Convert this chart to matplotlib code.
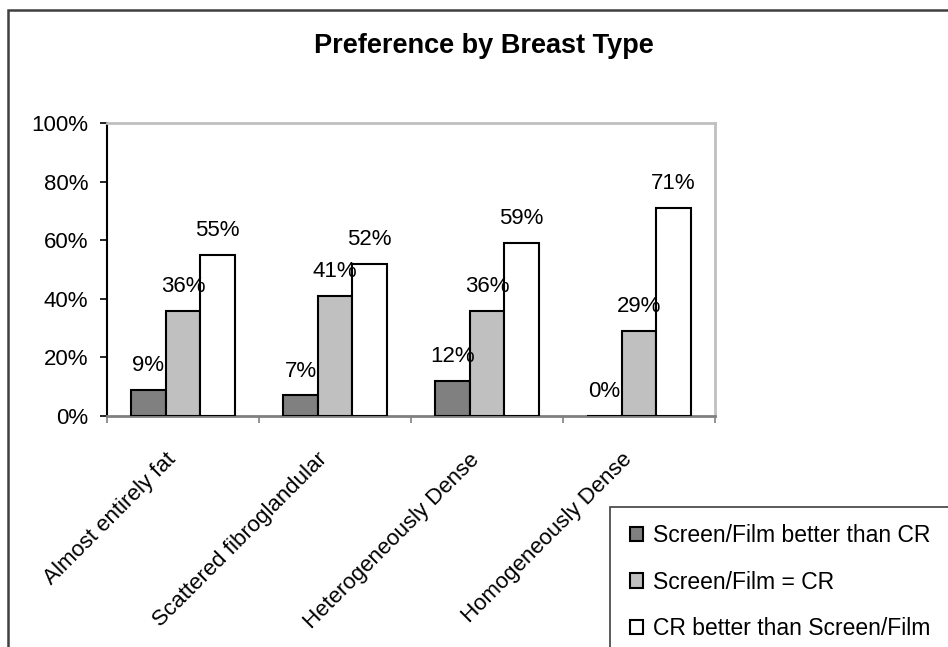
import matplotlib
matplotlib.use("Agg")
import matplotlib.pyplot as plt
from matplotlib.patches import Rectangle, Patch
from matplotlib.transforms import ScaledTranslation, blended_transform_factory
import numpy as np

plt.rcParams['font.family'] = ['Liberation Sans', 'DejaVu Sans']

categories = ["Almost entirely fat", "Scattered fibroglandular",
              "Heterogeneously Dense", "Homogeneously Dense"]
series_names = ["Screen/Film better than CR", "Screen/Film = CR",
                "CR better than Screen/Film"]
sf_better = [9, 7, 12, 0]
sf_equal = [36, 41, 36, 29]
cr_better = [55, 52, 59, 71]
y_ticks = [0, 20, 40, 60, 80, 100]

series = [sf_better, sf_equal, cr_better]
colors = ["#808080", "#C0C0C0", "#FFFFFF"]

W, H = 948, 647
fig = plt.figure(figsize=(W / 100, H / 100), dpi=100)

# outer chart border
fig.patches.append(Rectangle((8 / W, -0.1), 1.2, 1 - 10 / H + 0.1,
                             transform=fig.transFigure, fill=False,
                             edgecolor="#404040", linewidth=1.8))

ax = fig.add_axes([107 / W, 1 - 416 / H, (715 - 107) / W, (416 - 123) / H])

x = np.arange(len(categories))
bw = 0.227
for k, (vals, col) in enumerate(zip(series, colors)):
    pos = x + (k - 1) * bw
    ax.bar(pos, vals, width=bw, color=col, edgecolor="black",
           linewidth=1.5, label=series_names[k], zorder=3)
    for xi, v in zip(pos, vals):
        ax.annotate(f"{v}%", (xi, v), xytext=(0, 10), textcoords="offset points",
                    ha="center", va="bottom", fontsize=16, zorder=4)

ax.set_xlim(-0.5, len(categories) - 0.5)
ax.set_ylim(0, 100)
ax.set_yticks(y_ticks)
ax.set_yticklabels([f"{t}%" for t in y_ticks], fontsize=16)
ax.set_xticks(np.arange(len(categories) + 1) - 0.5)
ax.set_xticklabels([])
ax.tick_params(axis="y", direction="out", length=5, width=1.2, color="black", pad=8.5)
ax.tick_params(axis="x", direction="out", length=5, width=1.2, color="#808080")

ax.spines["left"].set_color("black")
ax.spines["left"].set_linewidth(1.5)
ax.spines["bottom"].set_color("#808080")
ax.spines["bottom"].set_linewidth(2)
ax.spines["top"].set_color("#C0C0C0")
ax.spines["top"].set_linewidth(2)
ax.spines["right"].set_color("#C0C0C0")
ax.spines["right"].set_linewidth(2)

# rotated category labels
trans = blended_transform_factory(ax.transData, ax.transAxes) + \
    ScaledTranslation(-18 / 100, -33 / 100, fig.dpi_scale_trans)
for xi, lab in zip(x, categories):
    ax.text(xi, 0, lab, transform=trans, rotation=45, rotation_mode="anchor",
            ha="right", va="top", fontsize=16)

fig.text(484 / W, 1 - 53 / H, "Preference by Breast Type", ha="center",
         va="baseline", fontsize=19.5, fontweight="bold")

# legend box
fig.patches.append(Rectangle((610 / W, -0.1), 0.5, 1 - 507 / H + 0.1,
                             transform=fig.transFigure, fill=False,
                             edgecolor="#404040", linewidth=1.2))
handles = [Patch(facecolor=c, edgecolor="black", linewidth=1.5) for c in colors]
fig.legend(handles, series_names, loc="upper left",
           bbox_to_anchor=(630 / W, 1 - 524 / H), frameon=False, fontsize=16.5,
           handlelength=0.57, handleheight=0.57, handletextpad=0.44,
           labelspacing=1.03, borderaxespad=0, borderpad=0)

fig.savefig("out.png", dpi=100)
